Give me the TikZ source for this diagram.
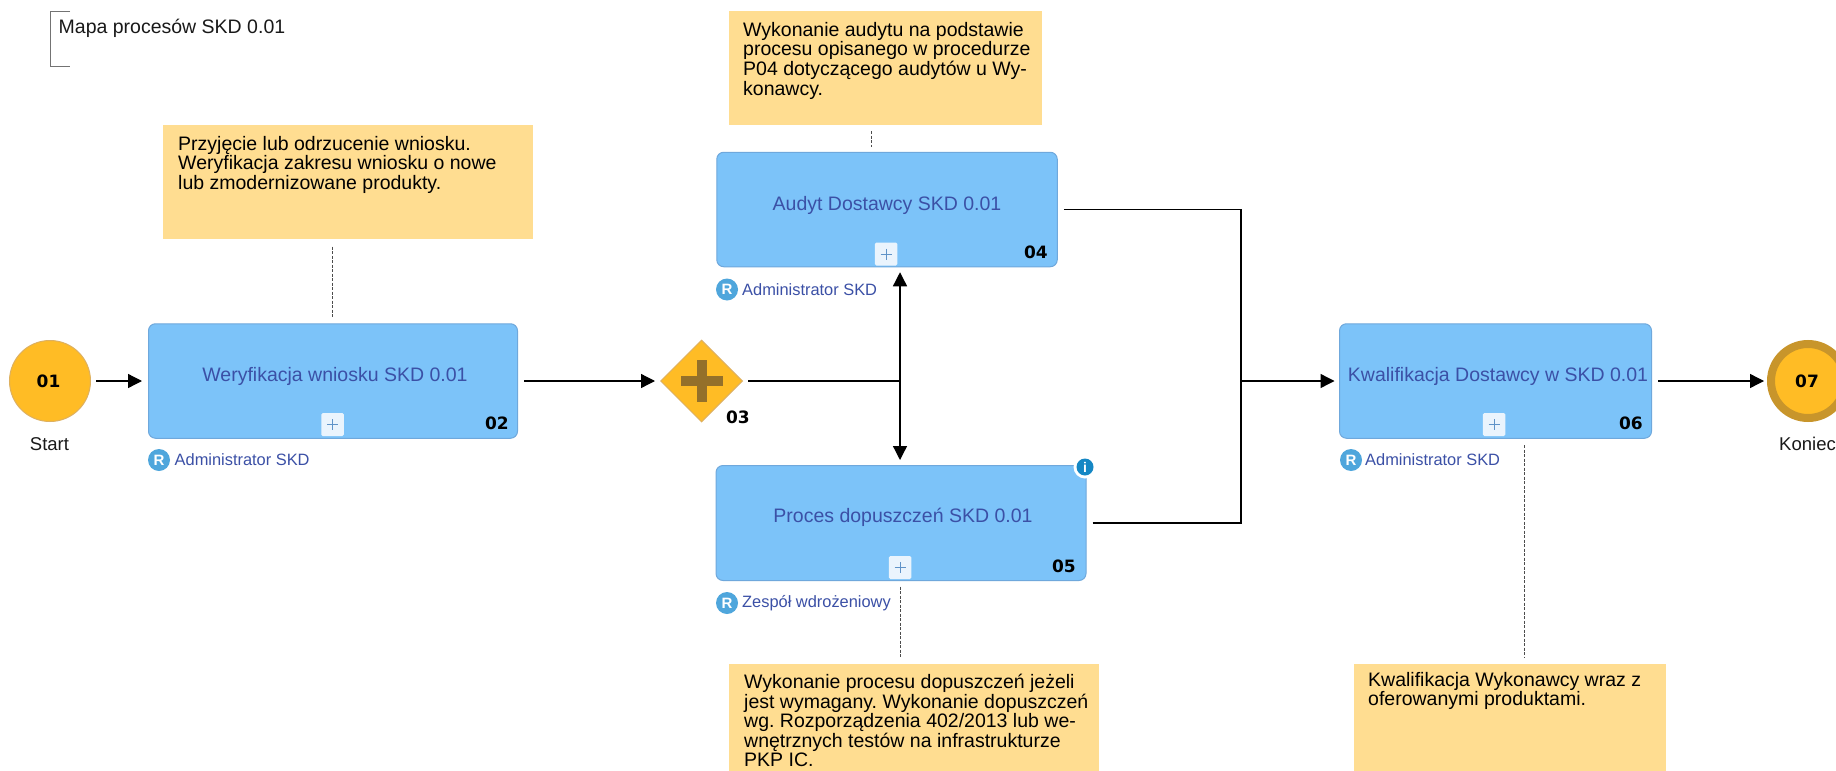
\documentclass[tikz,border=0pt]{standalone}
\usepackage{fontspec}
\setmainfont{Liberation Sans}
\newfontfamily\numfont{DejaVu Sans}
\usetikzlibrary{arrows.meta,shapes.geometric,calc}
\frenchspacing
\definecolor{boxfill}{HTML}{7CC3F9}
\definecolor{boxline}{HTML}{6FA8DC}
\definecolor{boxtext}{HTML}{3B50A6}
\definecolor{notefill}{HTML}{FFDD91}
\definecolor{gold}{HTML}{FFBC25}
\definecolor{goldline}{HTML}{DDB060}
\definecolor{ring}{HTML}{C8952B}
\definecolor{crossc}{HTML}{94702A}
\definecolor{rblue}{HTML}{4FA6DC}
\definecolor{infoblue}{HTML}{1587C4}
\definecolor{plusbg}{HTML}{EAF4FD}
\definecolor{plusfg}{HTML}{5F93C8}
\tikzset{
  x=1pt,y=-1pt,
  task/.style={draw=boxline,line width=1pt,fill=boxfill,rounded corners=7pt,inner sep=0pt},
  tasktxt/.style={inner sep=0pt,text=boxtext,font=\fontsize{19.5}{22}\selectfont},
  plusbox/.style={fill=plusbg,rounded corners=1.5pt,minimum width=22.5pt,minimum height=23pt,inner sep=0pt},
  plusmark/.style={draw=plusfg,line width=0.8pt},
  num/.style={font=\numfont\bfseries\fontsize{17}{18}\selectfont,text=black,inner sep=0pt},
  rolei/.style={circle,fill=rblue,minimum size=22pt,inner sep=0pt,text=white,font=\bfseries\fontsize{15}{15}\selectfont},
  roletxt/.style={anchor=west,inner sep=0pt,text=boxtext,font=\fontsize{16.4}{18}\selectfont},
  notebox/.style={fill=notefill,inner sep=0pt,anchor=north west},
  notetxt/.style={anchor=north west,inner sep=0pt,align=left,text=black,font=\fontsize{19.5}{19.6}\selectfont},
  flow/.style={draw=black,line width=1.3pt,-{Triangle[length=14pt,width=14pt]}},
  flowplain/.style={draw=black,line width=1.3pt},
  assoc/.style={draw=black!70,line width=1pt,dash pattern=on 3pt off 1.5pt},
  evlabel/.style={inner sep=0pt,text=black!90,font=\fontsize{18.5}{20}\selectfont},
}
\begin{document}
\begin{tikzpicture}
\useasboundingbox (0,0) rectangle (1836,770.5);
\clip (0,0) rectangle (1836,770.5);
\fill[white] (0,0) rectangle (1836,770.5);

% title bracket
\coordinate (brA) at (70,11.5);
\coordinate (brB) at (50,11.5);
\coordinate (brC) at (50,67);
\coordinate (brD) at (70,67);
\draw[draw=black!55,line width=1pt] (brA) -- (brB) -- (brC) -- (brD);
\node[anchor=west,inner sep=0pt,text=black!90,font=\fontsize{19.5}{20}\selectfont] (title) at (58.5,28) {Mapa procesów SKD 0.01};

% notes
\node[notebox,minimum width=370pt,minimum height=113.5pt] (n02) at (163,125) {};
\node[notetxt] (n02t) at (178,136) {Przyjęcie lub odrzucenie wniosku.\\Weryfikacja zakresu wniosku o nowe\\lub zmodernizowane produkty.};
\node[notebox,minimum width=313pt,minimum height=114pt] (n04) at (729,11) {};
\node[notetxt] (n04t) at (743,22) {Wykonanie audytu na podstawie\\procesu opisanego w procedurze\\P04 dotyczącego audytów u Wy-\\konawcy.};
\node[notebox,minimum width=370pt,minimum height=120pt] (n05) at (729,664) {};
\node[notetxt] (n05t) at (744,674) {Wykonanie procesu dopuszczeń jeżeli\\jest wymagany. Wykonanie dopuszczeń\\wg. Rozporządzenia 402/2013 lub we-\\wnętrznych testów na infrastrukturze\\PKP IC.};
\node[notebox,minimum width=312pt,minimum height=120pt] (n06) at (1354,664) {};
\node[notetxt] (n06t) at (1368,672) {Kwalifikacja Wykonawcy wraz z\\oferowanymi produktami.};

% events
\node[circle,draw=goldline,line width=1pt,fill=gold,minimum size=81pt,inner sep=0pt] (e01) at (50,381) {};
\node[num] (e01n) at (48.5,381) {01};
\node[evlabel] (e01l) at (49.5,444) {Start};
\node[circle,draw=ring,line width=8pt,fill=gold,minimum size=74pt,inner sep=0pt] (e07) at (1808,381) {};
\node[num] (e07n) at (1807,381) {07};
\node[evlabel] (e07l) at (1807.5,444) {Koniec};

% gateway
\node[diamond,aspect=1,fill=gold,draw=goldline,line width=1pt,minimum width=82pt,minimum height=82pt,inner sep=0pt] (g03) at (701.5,381) {};
\fill[crossc] ($(g03)+(-21,-5)$) rectangle ($(g03)+(21,5)$);
\fill[crossc] ($(g03)+(-5,-21)$) rectangle ($(g03)+(5,21)$);
\node[num,anchor=east] (g03n) at (750,417) {03};

% tasks
\node[task,minimum width=369pt,minimum height=114.5pt] (t02) at (333,381) {};
\node[tasktxt] (t02t) at (335,376) {Weryfikacja wniosku SKD 0.01};
\node[plusbox] (p02) at (332.5,424.5) {};
\draw[plusmark] ($(p02)+(-5.5,0)$) -- ($(p02)+(5.5,0)$) ($(p02)+(0,-5.5)$) -- ($(p02)+(0,5.5)$);
\node[num,anchor=east] (t02n) at (509,423) {02};
\node[rolei] (r02) at (159,460) {R};
\node[roletxt] (r02t) at (174.5,460) {Administrator SKD};

\node[task,minimum width=340.5pt,minimum height=114.5pt] (t04) at (887,209.5) {};
\node[tasktxt] (t04t) at (887,205) {Audyt Dostawcy SKD 0.01};
\node[plusbox] (p04) at (886,254) {};
\draw[plusmark] ($(p04)+(-5.5,0)$) -- ($(p04)+(5.5,0)$) ($(p04)+(0,-5.5)$) -- ($(p04)+(0,5.5)$);
\node[num,anchor=east] (t04n) at (1048,252) {04};
\node[rolei] (r04) at (727,289.5) {R};
\node[roletxt] (r04t) at (742,289.5) {Administrator SKD};

\node[task,minimum width=370pt,minimum height=115pt] (t05) at (901,523) {};
\node[tasktxt] (t05t) at (903,517) {Proces dopuszczeń SKD 0.01};
\node[plusbox] (p05) at (900,567.5) {};
\draw[plusmark] ($(p05)+(-5.5,0)$) -- ($(p05)+(5.5,0)$) ($(p05)+(0,-5.5)$) -- ($(p05)+(0,5.5)$);
\node[num,anchor=east] (t05n) at (1076,566) {05};
\node[rolei] (r05) at (727,603) {R};
\node[roletxt] (r05t) at (742,603) {Zespół wdrożeniowy};
\node[circle,fill=white,minimum size=23pt,inner sep=0pt] (ibg) at (1085,467) {};
\node[circle,fill=infoblue,minimum size=17pt,inner sep=0pt,text=white,font=\bfseries\fontsize{14}{14}\selectfont] (info) at (1085,467) {i};

\node[task,minimum width=312pt,minimum height=114.5pt] (t06) at (1495.5,381) {};
\node[tasktxt] (t06t) at (1498,376) {Kwalifikacja Dostawcy w SKD 0.01};
\node[plusbox] (p06) at (1494,424.5) {};
\draw[plusmark] ($(p06)+(-5.5,0)$) -- ($(p06)+(5.5,0)$) ($(p06)+(0,-5.5)$) -- ($(p06)+(0,5.5)$);
\node[num,anchor=east] (t06n) at (1643,423) {06};
\node[rolei] (r06) at (1351,460) {R};
\node[roletxt] (r06t) at (1365,460) {Administrator SKD};

% flows
\coordinate (split) at (900,381);
\coordinate (merge) at (1241,381);
\draw[flow,shorten <=5pt,shorten >=6pt] (e01) -- (t02);
\draw[flow,shorten <=6pt,shorten >=5pt] (t02) -- (g03);
\draw[flowplain,shorten <=5pt] (g03) -- (split);
\draw[flow,shorten >=5pt] (split) -- (split |- t04.south);
\draw[flow,shorten >=5pt] (split) -- (split |- t05.north);
\draw[flowplain,shorten <=6pt] (t04) -- (t04 -| merge) -- (merge);
\draw[flowplain,shorten <=6pt] (t05) -- (t05 -| merge) -- (merge);
\draw[flow,shorten >=4.5pt] (merge) -- (t06);
\draw[flow,shorten <=6pt,shorten >=3pt] (t06) -- (e07);

% associations
\coordinate (a02) at (332.5,238.5);
\coordinate (a04) at (871,125);
\coordinate (a05) at (900,580.5);
\coordinate (a06) at (1524.5,438);
\draw[assoc,shorten <=8pt,shorten >=6pt] (a02) -- (a02 |- t02.north);
\draw[assoc,shorten <=6pt,shorten >=5pt] (a04) -- (a04 |- t04.north);
\draw[assoc,shorten <=6pt,shorten >=7pt] (a05) -- (a05 |- n05.north);
\draw[assoc,shorten <=7pt,shorten >=7pt] (a06) -- (a06 |- n06.north);
\end{tikzpicture}
\end{document}
